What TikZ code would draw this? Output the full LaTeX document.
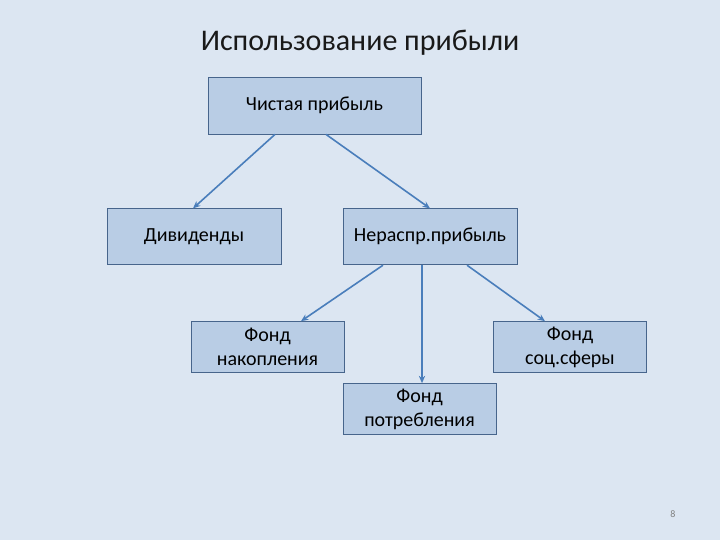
\documentclass[tikz,border=0pt]{standalone}
\usepackage{fontspec}
\setmainfont{Carlito}
\usetikzlibrary{positioning, arrows.meta, calc}
\definecolor{bgblue}{HTML}{DCE6F2}
\definecolor{boxfill}{HTML}{B9CDE5}
\definecolor{boxline}{HTML}{47658C}
\definecolor{arrowblue}{HTML}{4A7EBB}

\begin{document}
\begin{tikzpicture}[
  x=1pt, y=1pt,
  >={Stealth[length=2.6mm, width=2.2mm]},
  every node/.style={font=\fontsize{20}{24}\selectfont},
  box/.style={draw=boxline, fill=boxfill, line width=0.8pt, align=center, minimum width=174pt, minimum height=56pt, inner sep=0pt},
  fund/.style={box, minimum width=153pt, minimum height=51pt},
  link/.style={->, line width=1.6pt, arrowblue},
]
  \fill[bgblue] (0,0) rectangle (720,540);
  \useasboundingbox (0,0) rectangle (720,540);
  \node[font=\fontsize{30}{34}\selectfont, text=black!90] (title) at (360,497) {Использование прибыли};
  \node[box, minimum width=213pt, minimum height=57pt] (net) at (314.5,434.5) {Чистая прибыль};
  \node[box, below=74pt of net, xshift=-120.5pt] (div){Дивиденды};
  \node[box, below=74pt of net, xshift=115.5pt]  (ret){Нераспр.прибыль};
  \node[fund, below=56pt of ret, xshift=-162.5pt]  (acc){Фонд\\накопления};
  \node[fund, below=56pt of ret, xshift=140pt]     (soc){Фонд\\соц.сферы};
  \node[fund, below=118pt of ret, xshift=-10.5pt]  (con){Фонд\\потребления};
  \node[font=\fontsize{10}{12}\selectfont, text=gray] (page) at (673,26) {8};
  % arrows
  \draw[link] ($(net.south)+(-39.5,0)$) -- ($(div.north)+(-1,0)$);
  \draw[link] ($(net.south)+(11.5,0)$)  -- (ret.north);
  \draw[link] ($(ret.south)+(-47,0)$)   -- ($(acc.north)+(33.5,0)$);
  \draw[link] ($(ret.south)+(-8,0)$)    -- ($(con.north)+(2.5,0)$);
  \draw[link] ($(ret.south)+(37,0)$)    -- ($(soc.north)+(-25,0)$);
\end{tikzpicture}
\end{document}
